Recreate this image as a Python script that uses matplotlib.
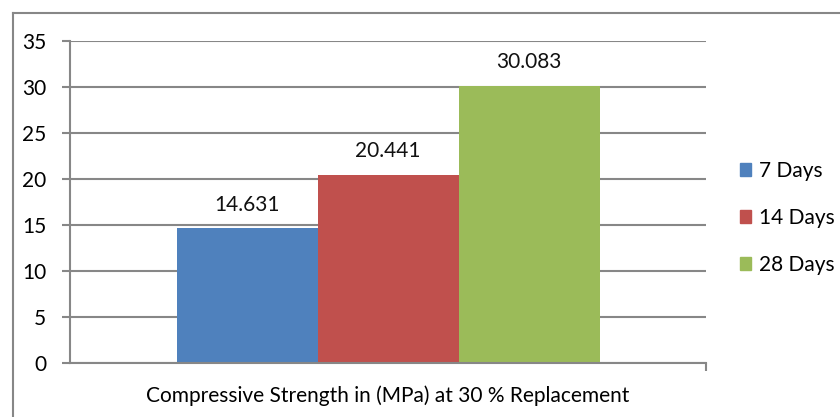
import matplotlib.pyplot as plt
from matplotlib.lines import Line2D

# compressive strength at 30 % replacement, by curing age
series = ['7 Days', '14 Days', '28 Days']
strength = [14.631, 20.441, 30.083]
colors = ['#4F81BD', '#C0504D', '#9BBB59']
category = 'Compressive Strength in (MPa) at 30 % Replacement'
yticks = [0, 5, 10, 15, 20, 25, 30, 35]

plt.rcParams['font.family'] = ['Lato', 'DejaVu Sans']
grid_c = '#878787'
fs = 15

fig = plt.figure(figsize=(8.4, 4.17), dpi=100)
ax = fig.add_axes([70 / 840, 1 - 363 / 417, 636 / 840, 322 / 417])

bw = 141 / 636
for i, (name, val, c) in enumerate(zip(series, strength, colors)):
    x = (i - 1) * bw
    ax.bar(x, val, width=bw, color=c, label=name, zorder=2)
    ax.text(x, val + 1.5, f'{val:.3f}', ha='center', va='bottom', fontsize=fs, color='#111111')

ax.set_xlim(-0.5, 0.5)
ax.set_ylim(0, 35)
ax.set_yticks(yticks)
ax.set_yticklabels([str(t) for t in yticks], fontsize=fs)
ax.yaxis.grid(True, color=grid_c, linewidth=1.5, zorder=0)
ax.set_axisbelow(True)

ax.set_xticks([0.5])
ax.set_xticklabels([''])
ax.tick_params(axis='x', length=6, width=1.5, color=grid_c)
ax.tick_params(axis='y', length=6, width=1.5, color=grid_c, pad=11)
ax.text(0, -3.6, category, ha='center', va='center', fontsize=fs, transform=ax.transData)

for side in ['top', 'right']:
    ax.spines[side].set_visible(False)
for side in ['left', 'bottom']:
    ax.spines[side].set_color(grid_c)
    ax.spines[side].set_linewidth(1.5)

handles = [plt.Rectangle((0, 0), 1, 1, color=c) for c in colors]
fig.legend(handles, series, loc='center left', bbox_to_anchor=(740 / 840, 1 - 218 / 417),
           frameon=False, fontsize=fs, handlelength=0.55, handleheight=0.55,
           handletextpad=0.35, labelspacing=1.3, borderaxespad=0, borderpad=0)

# outer chart border
fig.add_artist(Line2D([13 / 840, 13 / 840], [0, 1 - 13 / 417], color=grid_c, linewidth=1.5))
fig.add_artist(Line2D([13 / 840, 1], [1 - 13 / 417, 1 - 13 / 417], color=grid_c, linewidth=1.5))

fig.savefig('out.png', dpi=100)
